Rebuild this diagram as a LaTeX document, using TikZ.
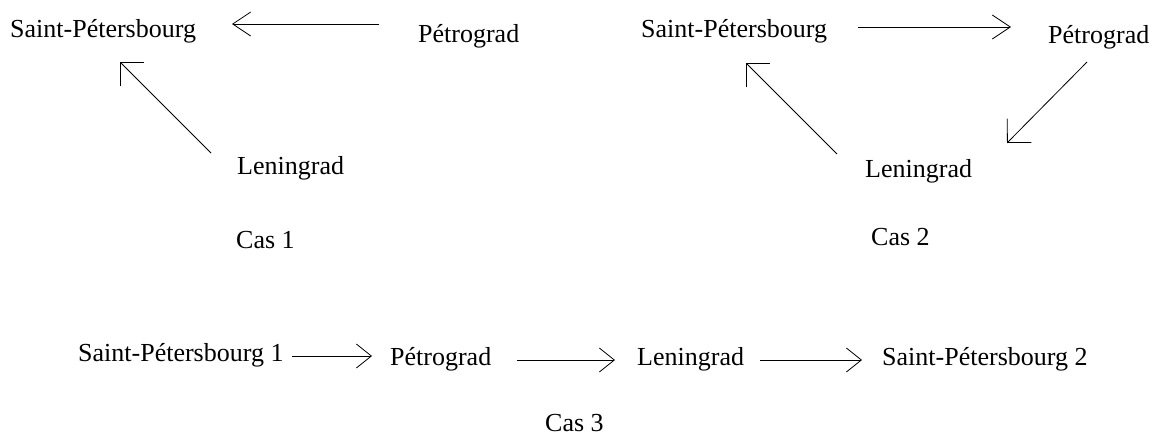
\documentclass[tikz,border=0pt]{standalone}
\usepackage{fontspec}
\setmainfont{Liberation Serif}
\usetikzlibrary{arrows.meta}
\begin{document}
\begin{tikzpicture}[x=1pt,y=-1pt,
  lbl/.style={anchor=base west,inner sep=0pt,font=\fontsize{26}{30}\selectfont},
  conn/.style={line width=0.8pt,draw=black},
  harr/.style={conn,-{Straight Barb[length=18pt,width=24pt,line width=0.8pt]}},
  darr/.style={conn,-{Straight Barb[length=17pt,width=34pt,line width=0.8pt]}},
  larr/.style={conn,-{Straight Barb[length=15pt,width=24pt,line width=0.8pt]}}]
\useasboundingbox (0,0) rectangle (1152,437);
% Cas 1
\node[lbl] (s1) at (10,37) {Saint-Pétersbourg};
\node[lbl] (p1) at (418,42) {Pétrograd};
\node[lbl] (l1) at (237,174) {Leningrad};
\node[lbl] (c1) at (236,248) {Cas 1};
\draw[harr] ([shift={(-39,-18)}]p1.base west) -- ([shift={(222,-13)}]s1.base west);
\draw[darr] ([shift={(-26,-21)}]l1.base west) -- ([shift={(110,25)}]s1.base west);
% Cas 2
\node[lbl] (s2) at (641,37) {Saint-Pétersbourg};
\node[lbl] (p2) at (1048,43) {Pétrograd};
\node[lbl] (l2) at (865,177) {Leningrad};
\node[lbl] (c2) at (871,245) {Cas 2};
\draw[harr] ([shift={(217,-10)}]s2.base west) -- ([shift={(-37,-16)}]p2.base west);
\draw[darr] ([shift={(39,19)}]p2.base west) -- ([shift={(142,-34)}]l2.base west);
\draw[darr] ([shift={(-28,-23)}]l2.base west) -- ([shift={(105,26)}]s2.base west);
% Cas 3
\node[lbl] (a3) at (78,361) {Saint-Pétersbourg 1};
\node[lbl] (b3) at (390,365) {Pétrograd};
\node[lbl] (c3) at (637,365) {Leningrad};
\node[lbl] (d3) at (882,365) {Saint-Pétersbourg 2};
\node[lbl] (cas3) at (545,431) {Cas 3};
\draw[larr] ([shift={(214,-5)}]a3.base west) -- ([shift={(-18,-9)}]b3.base west);
\draw[larr] ([shift={(127,-5)}]b3.base west) -- ([shift={(-22,-5)}]c3.base west);
\draw[larr] ([shift={(123,-5)}]c3.base west) -- ([shift={(-20,-5)}]d3.base west);
\end{tikzpicture}
\end{document}
